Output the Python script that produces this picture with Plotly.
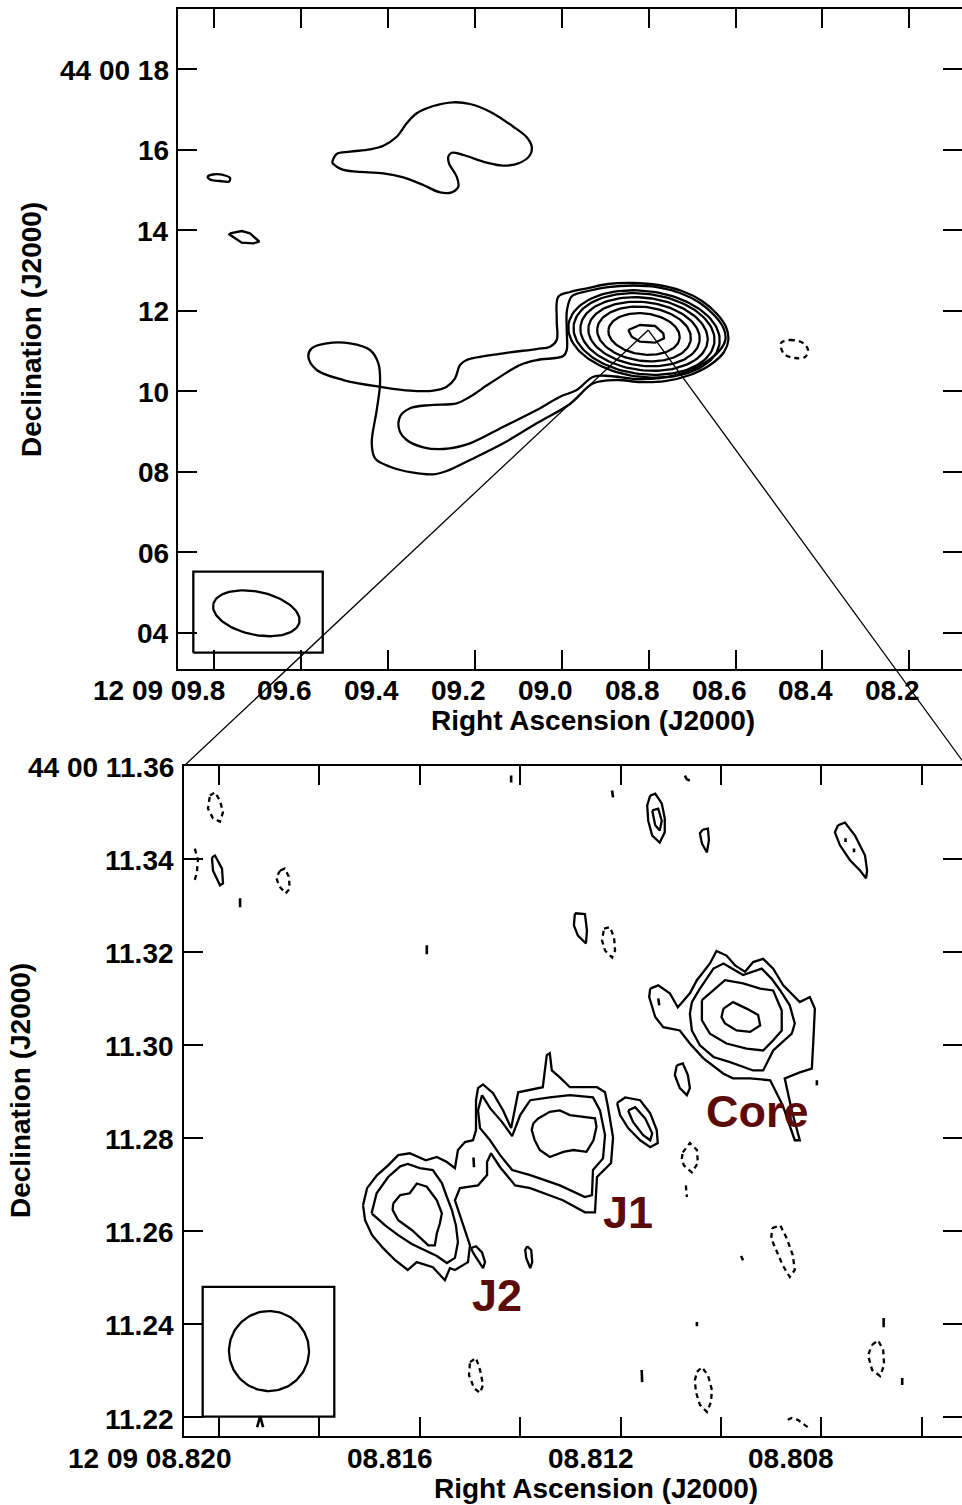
import math
import plotly.graph_objects as go

W, H = 962, 1505
DEC_REF_DEG = 44 + 11.3 / 3600.0
AS_PER_S = 15.0 * math.cos(math.radians(DEC_REF_DEG))   # arcsec of sky per second of RA

FONT = "Liberation Sans, Arial, Helvetica, sans-serif"
LBL = 28
MAROON = "#5c0b0b"
LW = 2.3

# ---------------- TOP PANEL DATA (RA seconds after 12h09m, Dec arcsec after 44d00m) ----------------
top_ra_ticks = [9.8, 9.6, 9.4, 9.2, 9.0, 8.8, 8.6, 8.4, 8.2]
top_ra_labels = ["12 09 09.8", "09.6", "09.4", "09.2", "09.0", "08.8", "08.6", "08.4", "08.2"]
top_dec_ticks = [18, 16, 14, 12, 10, 8, 6, 4]
top_dec_labels = ["44 00 18", "16", "14", "12", "10", "08", "06", "04"]
top_ra_range = [9.8836, 8.0788]
top_dec_range = [3.097, 19.503]

jetA_ra = [9.0081, 9.0118, 9.0118, 9.0272, 9.0578, 9.1347, 9.2190, 9.2344, 9.2459, 9.2650, 9.2958, 9.3495,
           9.4109, 9.5030, 9.5643, 9.5836, 9.5758, 9.5412, 9.4876, 9.4416, 9.4224, 9.4185, 9.4261, 9.4376,
           9.4300, 9.3955, 9.3419, 9.2958, 9.2650, 9.2114, 9.1347, 9.0578, 8.9812, 8.9275, 8.8730, 8.8200,
           8.7625, 8.7049, 8.6589, 8.6266, 8.6167, 8.6220, 8.6428, 8.6773, 8.7233, 8.7786, 8.8361, 8.8937,
           8.9397, 8.9812, 9.0081]
jetA_dec = [12.344, 11.766, 11.269, 11.102, 11.045, 10.939, 10.772, 10.648, 10.318, 10.109, 10.010, 10.010,
            10.094, 10.275, 10.524, 10.854, 11.063, 11.187, 11.187, 11.020, 10.690, 10.193, 9.530, 8.703,
            8.330, 8.122, 7.973, 7.933, 8.015, 8.288, 8.703, 9.200, 9.679, 10.193, 10.275, 10.226,
            10.250, 10.400, 10.648, 10.971, 11.269, 11.592, 11.915, 12.238, 12.486, 12.635, 12.685, 12.660,
            12.560, 12.461, 12.344]
jetB_ra = [8.9765, 8.9881, 8.9887, 8.9887, 8.9966, 9.0578, 9.0963, 9.1653, 9.2114, 9.2420, 9.3034, 9.3495,
           9.3725, 9.3741, 9.3571, 9.3189, 9.2728, 9.2114, 9.1347, 9.0578, 9.0042, 8.9657, 8.9275, 8.8891,
           8.8315, 8.7740, 8.7141, 8.6681, 8.6358, 8.6232, 8.6289, 8.6497, 8.6819, 8.7279, 8.7809, 8.8361,
           8.8937, 8.9397, 8.9765]
jetB_dec = [12.362, 12.014, 11.517, 11.020, 10.871, 10.772, 10.648, 10.193, 9.860, 9.697, 9.654, 9.572,
            9.364, 9.033, 8.785, 8.604, 8.561, 8.703, 9.115, 9.530, 9.860, 10.027, 10.357, 10.375,
            10.300, 10.325, 10.474, 10.722, 11.020, 11.294, 11.592, 11.890, 12.188, 12.436, 12.585, 12.623,
            12.585, 12.486, 12.362]
lobeN_ra = [9.5283, 9.5182, 9.4876, 9.4416, 9.4109, 9.3801, 9.3571, 9.3341, 9.2958, 9.2498, 9.2114, 9.1653,
            9.1117, 9.0808, 9.0693, 9.0732, 9.0963, 9.1347, 9.1729, 9.2268, 9.2535, 9.2613, 9.2597, 9.2420,
            9.2383, 9.2535, 9.2804, 9.3189, 9.3649, 9.4109, 9.4722, 9.5067, 9.5260, 9.5283]
lobeN_dec = [15.683, 15.889, 15.946, 16.006, 16.095, 16.318, 16.651, 16.900, 17.081, 17.173, 17.131, 16.939,
             16.567, 16.304, 16.070, 15.864, 15.673, 15.598, 15.673, 15.864, 15.921, 15.822, 15.658, 15.325,
             15.077, 14.937, 14.937, 15.119, 15.310, 15.409, 15.449, 15.509, 15.640, 15.683]
blob1_ra = [9.8152, 9.8030, 9.7753, 9.7638, 9.7661, 9.7869, 9.8099, 9.8152]
blob1_dec = [15.325, 15.380, 15.355, 15.293, 15.206, 15.218, 15.255, 15.325]
blob2_ra = [9.7638, 9.7369, 9.7178, 9.7063, 9.6964, 9.7102, 9.7369, 9.7654, 9.7638]
blob2_dec = [13.919, 13.976, 13.919, 13.795, 13.710, 13.671, 13.686, 13.894, 13.919]
neg1_ra = [8.4954, 8.4747, 8.4448, 8.4333, 8.4402, 8.4632, 8.4885, 8.4954]
neg1_dec = [11.194, 11.269, 11.194, 11.020, 10.847, 10.822, 10.921, 11.194]
core_ra0, core_dec0 = 8.8108, 11.418
core_major = [1.89, 1.76, 1.59, 1.39, 1.17, 0.89]
core_minor = [1.07, 1.00, 0.90, 0.79, 0.67, 0.51]
core_pa = 83.0
peak_ra = [8.8469, 8.8200, 8.7855, 8.7664, 8.7648, 8.7855, 8.8200, 8.8391, 8.8469]
peak_dec = [11.517, 11.641, 11.617, 11.435, 11.311, 11.202, 11.227, 11.351, 11.517]
beam1_ra, beam1_dec, beam1_major, beam1_minor, beam1_pa = 9.7033, 4.4804, 1.093, 0.534, 78.0
beam1_box_ra = [9.8483, 9.5504]
beam1_box_dec = [3.5018, 5.5137]
zoom_apex_ra, zoom_apex_dec = 8.8009, 11.517

# ---------------- BOTTOM PANEL DATA ----------------
bot_ra_ticks = [8.820, 8.818, 8.816, 8.814, 8.812, 8.810, 8.808, 8.806]
bot_ra_label_vals = [8.820, 8.816, 8.812, 8.808]
bot_ra_labels = ["12 09 08.820", "08.816", "08.812", "08.808"]
bot_dec_ticks = [11.36, 11.34, 11.32, 11.30, 11.28, 11.26, 11.24, 11.22]
bot_dec_labels = ["44 00 11.36", "11.34", "11.32", "11.30", "11.28", "11.26", "11.24", "11.22"]
bot_ra_range = [8.820691, 8.805199]
bot_dec_range = [11.21598, 11.36002]

coreL4_ra = [8.80995, 8.80976, 8.80949, 8.80926, 8.80922, 8.80942, 8.80969, 8.80992, 8.80999, 8.80995]
coreL4_dec = [11.3078, 11.3092, 11.3078, 11.3064, 11.3042, 11.3028, 11.3031, 11.3046, 11.3060, 11.3078]
coreL3_ra = [8.81038, 8.81015, 8.80992, 8.80956, 8.80922, 8.80896, 8.80879, 8.80879, 8.80896, 8.80916,
             8.80949, 8.80989, 8.81022, 8.81038, 8.81038]
coreL3_dec = [11.3096, 11.3117, 11.3139, 11.3132, 11.3121, 11.3117, 11.3074, 11.3031, 11.3010, 11.2988,
              11.2992, 11.3003, 11.3024, 11.3053, 11.3096]
coreL2_ra = [8.81058, 8.81042, 8.81015, 8.80995, 8.80956, 8.80939, 8.80919, 8.80899, 8.80882, 8.80863,
             8.80853, 8.80859, 8.80896, 8.80909, 8.80916, 8.80936, 8.80982, 8.81015, 8.81042, 8.81058,
             8.81062, 8.81058]
coreL2_dec = [11.3092, 11.3121, 11.3164, 11.3175, 11.3150, 11.3157, 11.3164, 11.3142, 11.3117, 11.3085,
              11.3046, 11.3024, 11.2988, 11.2960, 11.2945, 11.2945, 11.2963, 11.2974, 11.2999, 11.3031,
              11.3067, 11.3092]
coreL1_ra = [8.81141, 8.81125, 8.81102, 8.81086, 8.81062, 8.81048, 8.81022, 8.81009, 8.80989, 8.80972,
             8.80952, 8.80936, 8.80916, 8.80896, 8.80876, 8.80853, 8.80843, 8.80823, 8.80813, 8.80816,
             8.80819, 8.80843, 8.80873, 8.80859, 8.80843, 8.80853, 8.80877, 8.80902, 8.80942, 8.80976,
             8.80995, 8.81035, 8.81062, 8.81082, 8.81115, 8.81131, 8.81143, 8.81141]
coreL1_dec = [11.3121, 11.3128, 11.3111, 11.3081, 11.3111, 11.3139, 11.3175, 11.3202, 11.3192, 11.3171,
              11.3157, 11.3178, 11.3185, 11.3164, 11.3128, 11.3103, 11.3092, 11.3103, 11.3078, 11.3010,
              11.2949, 11.2941, 11.2928, 11.2859, 11.2795, 11.2795, 11.2870, 11.2924, 11.2928, 11.2928,
              11.2938, 11.2971, 11.3003, 11.3031, 11.3038, 11.3060, 11.3103, 11.3121]
jetL1_ra = [8.81713, 8.81705, 8.81685, 8.81663, 8.81643, 8.81620, 8.81588, 8.81566, 8.81546, 8.81530,
            8.81524, 8.81510, 8.81494, 8.81488, 8.81488, 8.81484, 8.81474, 8.81454, 8.81434, 8.81418,
            8.81404, 8.81355, 8.81347, 8.81341, 8.81337, 8.81321, 8.81301, 8.81247, 8.81231, 8.81225,
            8.81215, 8.81219, 8.81247, 8.81251, 8.81271, 8.81315, 8.81380, 8.81410, 8.81440, 8.81458,
            8.81466, 8.81466, 8.81484, 8.81520, 8.81530, 8.81514, 8.81500, 8.81504, 8.81530, 8.81540,
            8.81550, 8.81574, 8.81606, 8.81624, 8.81649, 8.81673, 8.81695, 8.81709, 8.81713]
jetL1_dec = [11.2655, 11.2692, 11.2720, 11.2741, 11.2763, 11.2767, 11.2752, 11.2759, 11.2748, 11.2735,
             11.2774, 11.2791, 11.2795, 11.2817, 11.2881, 11.2907, 11.2915, 11.2896, 11.2859, 11.2821,
             11.2898, 11.2909, 11.2978, 11.2982, 11.2945, 11.2930, 11.2909, 11.2909, 11.2898, 11.2866,
             11.2801, 11.2746, 11.2716, 11.2640, 11.2640, 11.2666, 11.2692, 11.2698, 11.2737, 11.2767,
             11.2748, 11.2720, 11.2698, 11.2692, 11.2666, 11.2612, 11.2569, 11.2533, 11.2516, 11.2520,
             11.2494, 11.2522, 11.2533, 11.2516, 11.2537, 11.2563, 11.2591, 11.2623, 11.2655]
j1L2_ra = [8.81476, 8.81460, 8.81436, 8.81416, 8.81400, 8.81380, 8.81341, 8.81301, 8.81255, 8.81241,
           8.81231, 8.81235, 8.81255, 8.81257, 8.81271, 8.81321, 8.81380, 8.81416, 8.81440, 8.81460,
           8.81480, 8.81484, 8.81476]
j1L2_dec = [11.2892, 11.2864, 11.2834, 11.2804, 11.2849, 11.2881, 11.2887, 11.2892, 11.2887, 11.2859,
            11.2806, 11.2756, 11.2731, 11.2677, 11.2673, 11.2698, 11.2720, 11.2731, 11.2763, 11.2795,
            11.2821, 11.2859, 11.2892]
j1L3_ra = [8.81374, 8.81364, 8.81341, 8.81321, 8.81301, 8.81274, 8.81251, 8.81248, 8.81254, 8.81268,
           8.81294, 8.81314, 8.81341, 8.81361, 8.81371, 8.81377, 8.81374]
j1L3_dec = [11.2831, 11.2842, 11.2856, 11.2859, 11.2849, 11.2845, 11.2842, 11.2824, 11.2795, 11.2770,
            11.2774, 11.2770, 11.2759, 11.2774, 11.2795, 11.2817, 11.2831]
j2L2_ra = [8.81696, 8.81686, 8.81663, 8.81639, 8.81624, 8.81600, 8.81574, 8.81556, 8.81546, 8.81536,
           8.81528, 8.81524, 8.81530, 8.81546, 8.81566, 8.81590, 8.81616, 8.81643, 8.81669, 8.81696]
j2L2_dec = [11.2638, 11.2681, 11.2716, 11.2739, 11.2744, 11.2735, 11.2731, 11.2703, 11.2673, 11.2645,
            11.2612, 11.2576, 11.2542, 11.2531, 11.2546, 11.2559, 11.2572, 11.2591, 11.2612, 11.2638]
j2L3_ra = [8.81653, 8.81639, 8.81620, 8.81606, 8.81586, 8.81566, 8.81556, 8.81560, 8.81566, 8.81570,
           8.81583, 8.81616, 8.81643, 8.81654, 8.81653]
j2L3_dec = [11.2659, 11.2677, 11.2681, 11.2702, 11.2695, 11.2666, 11.2638, 11.2616, 11.2595, 11.2569,
            11.2569, 11.2602, 11.2623, 11.2645, 11.2659]
knotA_ra = [8.81207, 8.81191, 8.81161, 8.81141, 8.81128, 8.81126, 8.81141, 8.81161, 8.81185, 8.81201, 8.81207]
knotA_dec = [11.2875, 11.2887, 11.2881, 11.2853, 11.2817, 11.2789, 11.2780, 11.2795, 11.2821, 11.2849, 11.2875]
knotA2_ra = [8.81185, 8.81171, 8.81151, 8.81137, 8.81141, 8.81155, 8.81175, 8.81185]
knotA2_dec = [11.2859, 11.2866, 11.2842, 11.2810, 11.2795, 11.2806, 11.2834, 11.2859]

pos_islands = [
    ([8.81498, 8.81488, 8.81476, 8.81470, 8.81474, 8.81482, 8.81492, 8.81498],
     [11.2563, 11.2567, 11.2554, 11.2533, 11.2520, 11.2533, 11.2550, 11.2563]),
    ([8.81386, 8.81378, 8.81376, 8.81380, 8.81388, 8.81390, 8.81386],
     [11.2567, 11.2559, 11.2533, 11.2520, 11.2542, 11.2559, 11.2567]),
    ([8.81088, 8.81076, 8.81066, 8.81062, 8.81068, 8.81082, 8.81092, 8.81088],
     [11.2956, 11.2960, 11.2935, 11.2907, 11.2892, 11.2907, 11.2935, 11.2956]),
    ([8.82014, 8.82008, 8.81994, 8.81992, 8.81998, 8.82012, 8.82014],
     [11.3403, 11.3407, 11.3379, 11.3347, 11.3343, 11.3375, 11.3403]),
    ([8.81141, 8.81131, 8.81118, 8.81112, 8.81112, 8.81122, 8.81137, 8.81145, 8.81147, 8.81141],
     [11.3536, 11.3540, 11.3519, 11.3487, 11.3457, 11.3435, 11.3450, 11.3482, 11.3515, 11.3536]),
    ([8.81137, 8.81125, 8.81118, 8.81122, 8.81131, 8.81137],
     [11.3504, 11.3508, 11.3482, 11.3461, 11.3472, 11.3504]),
    ([8.81036, 8.81026, 8.81024, 8.81028, 8.81038, 8.81042, 8.81036],
     [11.3463, 11.3465, 11.3440, 11.3414, 11.3433, 11.3455, 11.3463]),
    ([8.80767, 8.80753, 8.80733, 8.80713, 8.80709, 8.80711, 8.80723, 8.80743, 8.80763, 8.80773, 8.80767],
     [11.3472, 11.3478, 11.3450, 11.3407, 11.3375, 11.3358, 11.3375, 11.3397, 11.3429, 11.3457, 11.3472]),
    ([8.81291, 8.81271, 8.81267, 8.81269, 8.81285, 8.81293, 8.81291],
     [11.3283, 11.3281, 11.3246, 11.3218, 11.3235, 11.3257, 11.3283]),
]
pos_specks = [
    ([8.81493, 8.81492], [11.2758, 11.2737]),
    ([8.81125, 8.81123], [11.3100, 11.3085]),
    ([8.80809, 8.80809], [11.2924, 11.2913]),
    ([8.80960, 8.80956], [11.2546, 11.2537]),
    ([8.81958, 8.81958], [11.3315, 11.3296]),
    ([8.81586, 8.81586], [11.3214, 11.3195]),
    ([8.81418, 8.81418], [11.3579, 11.3564]),
    ([8.81217, 8.81215], [11.3547, 11.3532]),
    ([8.81072, 8.81068, 8.81062], [11.3579, 11.3571, 11.3568]),
    ([8.80752, 8.80752], [11.3444, 11.3436]),
    ([8.80735, 8.80735], [11.3422, 11.3414]),
    ([8.81158, 8.81157], [11.2301, 11.2275]),
    ([8.81048, 8.81048], [11.2404, 11.2395]),
    ([8.80676, 8.80676], [11.2413, 11.2393]),
    ([8.80639, 8.80639], [11.2284, 11.2269]),
    ([8.81924, 8.81918, 8.81912], [11.2178, 11.2202, 11.2178]),
]
neg_islands = [
    ([8.81076, 8.81062, 8.81048, 8.81046, 8.81058, 8.81074, 8.81078, 8.81076],
     [11.2769, 11.2789, 11.2774, 11.2746, 11.2726, 11.2741, 11.2756, 11.2769]),
    ([8.81070, 8.81068], [11.2698, 11.2673]),
    ([8.80898, 8.80882, 8.80869, 8.80857, 8.80853, 8.80863, 8.80877, 8.80890, 8.80900, 8.80898],
     [11.2606, 11.2612, 11.2584, 11.2548, 11.2516, 11.2501, 11.2526, 11.2559, 11.2584, 11.2606]),
    ([8.82018, 8.82008, 8.81998, 8.81992, 8.81998, 8.82012, 8.82022, 8.82018],
     [11.3536, 11.3543, 11.3525, 11.3500, 11.3480, 11.3487, 11.3508, 11.3536]),
    ([8.82048, 8.82042, 8.82044, 8.82050], [11.3422, 11.3397, 11.3371, 11.3347]),
    ([8.81878, 8.81869, 8.81861, 8.81859, 8.81867, 8.81880, 8.81886, 8.81878],
     [11.3375, 11.3379, 11.3362, 11.3336, 11.3326, 11.3341, 11.3360, 11.3375]),
    ([8.81233, 8.81221, 8.81213, 8.81211, 8.81217, 8.81231, 8.81237, 8.81233],
     [11.3250, 11.3253, 11.3231, 11.3203, 11.3188, 11.3203, 11.3225, 11.3250]),
    ([8.81500, 8.81488, 8.81480, 8.81474, 8.81480, 8.81492, 8.81502, 8.81500],
     [11.2318, 11.2327, 11.2301, 11.2269, 11.2252, 11.2262, 11.2290, 11.2318]),
    ([8.81048, 8.81038, 8.81026, 8.81018, 8.81020, 8.81028, 8.81042, 8.81050, 8.81052, 8.81048],
     [11.2297, 11.2307, 11.2290, 11.2258, 11.2232, 11.2211, 11.2226, 11.2254, 11.2279, 11.2297]),
    ([8.80699, 8.80687, 8.80677, 8.80675, 8.80683, 8.80699, 8.80707, 8.80699],
     [11.2355, 11.2365, 11.2344, 11.2312, 11.2288, 11.2301, 11.2333, 11.2355]),
    ([8.80867, 8.80859, 8.80847, 8.80827], [11.2194, 11.2198, 11.2194, 11.2178]),
]
beam2_ra, beam2_dec, beam2_radius = 8.819004, 11.23418, 0.0086
beam2_box_ra = [8.820325, 8.817703]
beam2_box_dec = [11.22006, 11.24799]
comp_names = ["Core", "J1", "J2"]
comp_ra = [8.80928, 8.81185, 8.81446]
comp_dec = [11.28573, 11.26404, 11.24620]

# ---------------- helpers ----------------
def ellipse(ra0, dec0, a, b, pa_deg, n=120):
    pa = math.radians(pa_deg)
    ras, decs = [], []
    for i in range(n + 1):
        t = 2 * math.pi * i / n
        u, v = a * math.cos(t), b * math.sin(t)
        east = u * math.sin(pa) + v * math.cos(pa)
        north = u * math.cos(pa) - v * math.sin(pa)
        ras.append(ra0 + east / AS_PER_S)
        decs.append(dec0 + north)
    return ras, decs

fig = go.Figure()

def contour(ra, dec, xa, ya, dashed=False, width=LW, shape="linear"):
    fig.add_trace(go.Scatter(
        x=ra, y=dec, xaxis=xa, yaxis=ya, mode="lines",
        line=dict(color="black", width=width, dash="5px,4px" if dashed else "solid", shape=shape),
        hoverinfo="skip", showlegend=False))

def box(ras, decs, xa, ya):
    contour([ras[0], ras[1], ras[1], ras[0], ras[0]], [decs[0], decs[0], decs[1], decs[1], decs[0]], xa, ya)

# top panel
contour(jetA_ra, jetA_dec, "x", "y", shape="spline")
contour(jetB_ra, jetB_dec, "x", "y", shape="spline")
for a, b in zip(core_major, core_minor):
    r, d = ellipse(core_ra0, core_dec0, a, b, core_pa)
    contour(r, d, "x", "y")
contour(peak_ra, peak_dec, "x", "y")
contour(lobeN_ra, lobeN_dec, "x", "y", shape="spline")
contour(blob1_ra, blob1_dec, "x", "y", shape="spline")
contour(blob2_ra, blob2_dec, "x", "y")
contour(neg1_ra, neg1_dec, "x", "y", dashed=True, shape="spline")
r, d = ellipse(beam1_ra, beam1_dec, beam1_major, beam1_minor, beam1_pa)
contour(r, d, "x", "y")
box(beam1_box_ra, beam1_box_dec, "x", "y")
fig.add_trace(go.Scatter(x=[None], y=[None], xaxis="x", yaxis="y2", showlegend=False, hoverinfo="skip"))

# bottom panel
for r, d in [(coreL1_ra, coreL1_dec), (coreL2_ra, coreL2_dec), (coreL3_ra, coreL3_dec), (coreL4_ra, coreL4_dec),
             (jetL1_ra, jetL1_dec), (j1L2_ra, j1L2_dec), (j1L3_ra, j1L3_dec), (j2L2_ra, j2L2_dec),
             (j2L3_ra, j2L3_dec), (knotA_ra, knotA_dec), (knotA2_ra, knotA2_dec)]:
    contour(r, d, "x2", "y3")
for r, d in pos_islands:
    contour(r, d, "x2", "y3")
for r, d in pos_specks:
    contour(r, d, "x2", "y3", width=2.6)
for r, d in neg_islands:
    contour(r, d, "x2", "y3", dashed=True)
r, d = ellipse(beam2_ra, beam2_dec, beam2_radius, beam2_radius, 0)
contour(r, d, "x2", "y3")
box(beam2_box_ra, beam2_box_dec, "x2", "y3")
fig.add_trace(go.Scatter(x=[None], y=[None], xaxis="x2", yaxis="y4", showlegend=False, hoverinfo="skip"))

# ---------------- axes ----------------
TOP_X_DOM = [178 / W, 1.0]
TOP_Y_DOM = [1 - 669 / H, 1 - 8.5 / H]
BOT_X_DOM = [184.3 / W, 1.0]
BOT_Y_DOM = [1 - 1435.7 / H, 1 - 765.7 / H]

ax_common = dict(showgrid=False, zeroline=False, ticks="inside", ticklen=19, tickwidth=2,
                 tickcolor="black", showticklabels=False)
frame = dict(showline=True, linecolor="black", linewidth=2.2)
fig.update_layout(
    width=W, height=H, margin=dict(l=0, r=0, t=0, b=0),
    paper_bgcolor="white", plot_bgcolor="white",
    xaxis=dict(domain=TOP_X_DOM, range=top_ra_range, anchor="y", tickvals=top_ra_ticks,
               mirror="ticks", **frame, **ax_common),
    yaxis=dict(domain=TOP_Y_DOM, range=top_dec_range, anchor="x", tickvals=top_dec_ticks,
               mirror=False, **frame, **ax_common),
    yaxis2=dict(range=top_dec_range, overlaying="y", side="right", anchor="x", tickvals=top_dec_ticks,
                showline=False, **ax_common),
    xaxis2=dict(domain=BOT_X_DOM, range=bot_ra_range, anchor="y3", tickvals=bot_ra_ticks,
                mirror="ticks", **frame, **ax_common),
    yaxis3=dict(domain=BOT_Y_DOM, range=bot_dec_range, anchor="x2", tickvals=bot_dec_ticks,
                mirror=False, **frame, **ax_common),
    yaxis4=dict(range=bot_dec_range, overlaying="y3", side="right", anchor="x2", tickvals=bot_dec_ticks,
                showline=False, **ax_common),
)

ann = []
tf = dict(family=FONT, size=LBL, color="black", weight="bold")
common_ann = dict(showarrow=False, borderpad=0)
for v, t in zip(top_ra_ticks, top_ra_labels):
    ann.append(dict(x=v, xref="x", y=TOP_Y_DOM[0], yref="paper", text=t, xanchor="right", yanchor="middle",
                    xshift=12, yshift=-21, font=tf, **common_ann))
for v, t in zip(top_dec_ticks, top_dec_labels):
    ann.append(dict(x=TOP_X_DOM[0], xref="paper", y=v, yref="y", text=t, xanchor="right", yanchor="middle",
                    xshift=-8, yshift=-1, font=tf, **common_ann))
for v, t in zip(bot_ra_label_vals, bot_ra_labels):
    ann.append(dict(x=v, xref="x2", y=BOT_Y_DOM[0], yref="paper", text=t, xanchor="right", yanchor="middle",
                    xshift=14, yshift=-23, font=tf, **common_ann))
for v, t in zip(bot_dec_ticks, bot_dec_labels):
    ann.append(dict(x=BOT_X_DOM[0], xref="paper", y=v, yref="y3", text=t, xanchor="right", yanchor="middle",
                    xshift=-9, yshift=-2, font=tf, **common_ann))
ann.append(dict(x=592.5 / W, y=1 - 720 / H, xref="paper", yref="paper", text="Right Ascension (J2000)",
                xanchor="center", yanchor="middle", font=tf, **common_ann))
ann.append(dict(x=596 / W, y=1 - 1488 / H, xref="paper", yref="paper", text="Right Ascension (J2000)",
                xanchor="center", yanchor="middle", font=tf, **common_ann))
ann.append(dict(x=31 / W, y=1 - 330 / H, xref="paper", yref="paper", text="Declination (J2000)",
                xanchor="center", yanchor="middle", textangle=-90, font=tf, **common_ann))
ann.append(dict(x=20 / W, y=1 - 1091 / H, xref="paper", yref="paper", text="Declination (J2000)",
                xanchor="center", yanchor="middle", textangle=-90, font=tf, **common_ann))
for n, r, d in zip(comp_names, comp_ra, comp_dec):
    ann.append(dict(x=r, y=d, xref="x2", yref="y3", text=n, xanchor="center", yanchor="middle",
                    font=dict(family=FONT, size=45, color=MAROON, weight="bold"), **common_ann))
fig.update_layout(annotations=ann)

def to_paper(v, rng, dom):
    return dom[0] + (v - rng[0]) / (rng[1] - rng[0]) * (dom[1] - dom[0])

ax_p = to_paper(zoom_apex_ra, top_ra_range, TOP_X_DOM)
ay_p = to_paper(zoom_apex_dec, top_dec_range, TOP_Y_DOM)
bot_right_ra = 8.80512
corners = [(BOT_X_DOM[0], BOT_Y_DOM[1]), (to_paper(bot_right_ra, bot_ra_range, BOT_X_DOM), BOT_Y_DOM[1])]
fig.update_layout(shapes=[dict(type="line", xref="paper", yref="paper", x0=ax_p, y0=ay_p, x1=cx, y1=cy,
                               line=dict(color="black", width=1.3)) for cx, cy in corners])

fig.write_html("out.html")
